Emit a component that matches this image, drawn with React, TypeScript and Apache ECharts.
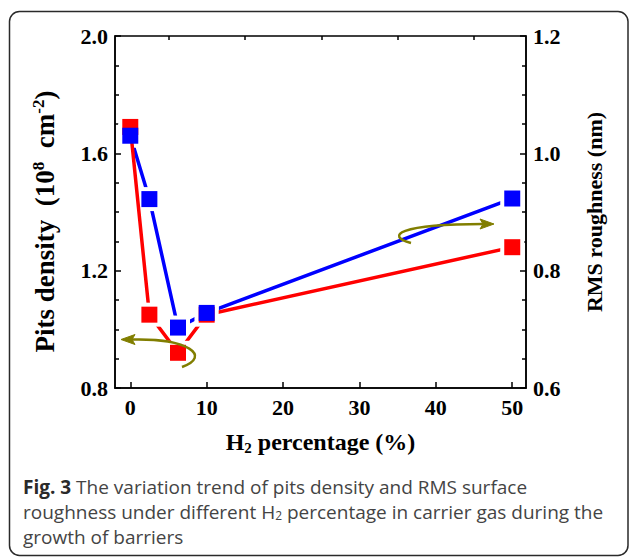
import React, { useEffect, useRef } from 'react';
import * as echarts from 'echarts';

// ---- data ----
const h2Percent = [0, 2.5, 6.25, 10, 50];
const pitsDensity = [1.69, 1.05, 0.92, 1.05, 1.28]; // 10^8 cm^-2 (left axis)
const rmsRoughness = [1.03, 0.922, 0.703, 0.728, 0.923]; // nm (right axis)
const xMajorTicks = [0, 10, 20, 30, 40, 50];
const xMinorTicks = [5, 15, 25, 35, 45];
const captionLines = [
  '{b|Fig. 3} The variation trend of pits density and RMS surface',
  'roughness under different H{s|2} percentage in carrier gas during the',
  'growth of barriers',
];

const SERIF = '"Liberation Serif", "Times New Roman", serif';
const SANS = '"Open Sans", "Noto Sans", sans-serif';
const OLIVE = '#817e00';

export default function App() {
  const ref = useRef<HTMLDivElement>(null);
  useEffect(() => {
    if (!ref.current) return;
    const chart = echarts.init(ref.current, undefined, { renderer: 'svg' });
    const red = h2Percent.map((x, i) => [x, pitsDensity[i]]);
    const blue = h2Percent.map((x, i) => [x, rmsRoughness[i]]);
    const tickStyle = { color: '#000', width: 1.5 };
    const axisLabelStyle = {
      color: '#000',
      fontFamily: SERIF,
      fontWeight: 'bold' as const,
      fontSize: 22,
    };
    const nameStyle = {
      color: '#000',
      fontFamily: SERIF,
      fontWeight: 'bold' as const,
      fontSize: 22,
    };
    const leftName = { ...nameStyle, fontSize: 27 };
    const xName = { ...nameStyle, fontSize: 24 };
    chart.setOption({
      animation: false,
      backgroundColor: '#fff',
      grid: {
        left: 115,
        right: 104,
        top: 36,
        bottom: 169,
        show: true,
        borderColor: '#000',
        borderWidth: 1.5,
        backgroundColor: 'transparent',
      },
      xAxis: [
        {
          type: 'value',
          min: -2,
          max: 51.8,
          axisLine: { show: true, onZero: false, lineStyle: { color: '#000', width: 1.5 } },
          axisTick: { show: true, inside: true, length: 6, customValues: xMajorTicks, lineStyle: tickStyle },
          axisLabel: {
            show: true,
            customValues: xMajorTicks,
            margin: 8,
            ...axisLabelStyle,
          },
          splitLine: { show: false },
          name: '{a|H}{s|2}{a| percentage (%)}',
          nameLocation: 'middle',
          nameGap: 41,
          nameTextStyle: {
            ...xName,
            rich: {
              a: { ...xName, lineHeight: 26 },
              s: { ...xName, fontSize: 15, lineHeight: 15, verticalAlign: 'bottom' },
            },
          },
        },
        {
          type: 'value',
          min: -2,
          max: 51.8,
          axisLine: { show: false, onZero: false },
          axisTick: { show: true, inside: true, length: 4, customValues: xMinorTicks, lineStyle: tickStyle },
          axisLabel: { show: false },
          splitLine: { show: false },
        },
      ],
      yAxis: [
        {
          type: 'value',
          position: 'left',
          min: 0.8,
          max: 2.0,
          interval: 0.4,
          axisLine: { show: true, onZero: false, lineStyle: { color: '#000', width: 1.5 } },
          axisTick: { show: true, inside: true, length: 6, lineStyle: tickStyle },
          minorTick: { show: true, splitNumber: 4, length: 4, lineStyle: tickStyle },
          axisLabel: { ...axisLabelStyle, margin: 7, formatter: (v: number) => v.toFixed(1) },
          splitLine: { show: false },
          name: '{a|Pits density  (10}{p|8}{a|  cm}{p|-2}{a|)}{g|}',
          nameLocation: 'middle',
          nameRotate: 90,
          nameGap: 55,
          nameTextStyle: {
            ...leftName,
            rich: {
              a: { ...leftName, lineHeight: 30 },
              p: { ...leftName, fontSize: 17, lineHeight: 17, verticalAlign: 'top' },
              g: { ...leftName, width: 19 },
            },
          },
        },
        {
          type: 'value',
          position: 'right',
          min: 0.6,
          max: 1.2,
          interval: 0.2,
          axisLine: { show: true, onZero: false, lineStyle: { color: '#000', width: 1.5 } },
          axisTick: { show: true, inside: true, length: 6, lineStyle: tickStyle },
          minorTick: { show: true, splitNumber: 4, length: 4, lineStyle: tickStyle },
          axisLabel: { ...axisLabelStyle, margin: 7, formatter: (v: number) => v.toFixed(1) },
          splitLine: { show: false },
          name: 'RMS roughness (nm)',
          nameLocation: 'middle',
          nameRotate: 90,
          nameGap: 57,
          nameTextStyle: nameStyle,
        },
      ],
      series: [
        // blue (roughness) line and its gap mask first
        {
          type: 'line',
          data: blue,
          xAxisIndex: 0,
          yAxisIndex: 1,
          symbol: 'none',
          silent: true,
          z: 2,
          lineStyle: { color: '#0000ff', width: 3.5 },
        },
        {
          type: 'scatter',
          data: blue,
          yAxisIndex: 1,
          symbol: 'rect',
          symbolSize: 24,
          silent: true,
          z: 3,
          itemStyle: { color: '#ffffff', opacity: 1 },
        },
        // red (pits density) line and its gap mask
        {
          type: 'line',
          data: red,
          xAxisIndex: 0,
          yAxisIndex: 0,
          symbol: 'none',
          silent: true,
          z: 4,
          lineStyle: { color: '#ff0000', width: 3.5 },
        },
        {
          type: 'scatter',
          data: red,
          yAxisIndex: 0,
          symbol: 'rect',
          symbolSize: 24,
          silent: true,
          z: 5,
          itemStyle: { color: '#ffffff', opacity: 1 },
        },
        {
          type: 'scatter',
          data: red,
          yAxisIndex: 0,
          symbol: 'rect',
          symbolSize: 16,
          silent: true,
          z: 8,
          itemStyle: { color: '#ff0000', opacity: 1 },
        },
        {
          type: 'scatter',
          data: blue,
          yAxisIndex: 1,
          symbol: 'rect',
          symbolSize: 16,
          silent: true,
          z: 9,
          itemStyle: { color: '#0000ff', opacity: 1 },
        },
      ],
      graphic: [
        {
          type: 'rect',
          silent: true,
          shape: { x: 9.5, y: 11.5, width: 618.5, height: 544, r: 10 },
          style: { fill: 'none', stroke: '#2a2a2a', lineWidth: 1.5 },
        },
        // left-pointing annotation arrow (pits density -> left axis)
        {
          type: 'bezierCurve',
          silent: true,
          z: 20,
          shape: { x1: 182, y1: 367, cpx1: 212, cpy1: 356, cpx2: 188, cpy2: 338, x2: 132, y2: 339.5 },
          style: { stroke: OLIVE, lineWidth: 2.5, fill: 'none' },
        },
        {
          type: 'polygon',
          silent: true,
          z: 20,
          shape: { points: [[121, 339.5], [135, 334.5], [132, 339.5], [135, 344.5]] },
          style: { fill: OLIVE, stroke: OLIVE, lineWidth: 1 },
        },
        // right-pointing annotation arrow (roughness -> right axis)
        {
          type: 'bezierCurve',
          silent: true,
          z: 20,
          shape: { x1: 411, y1: 243, cpx1: 385, cpy1: 236, cpx2: 398, cpy2: 224, x2: 483, y2: 224 },
          style: { stroke: OLIVE, lineWidth: 2.5, fill: 'none' },
        },
        {
          type: 'polygon',
          silent: true,
          z: 20,
          shape: { points: [[494, 224], [480, 219], [483, 224], [480, 229]] },
          style: { fill: OLIVE, stroke: OLIVE, lineWidth: 1 },
        },
        ...captionLines.map((t, i) => ({
          type: 'text',
          silent: true,
          x: 23,
          y: 487 + i * 25,
          style: {
            text: t,
            fontFamily: SANS,
            fontSize: 19,
            fill: '#444444',
            verticalAlign: 'middle',
            rich: {
              b: { fontFamily: SANS, fontSize: 19, fontWeight: 'bold', fill: '#2a2a2a', lineHeight: 24 },
              s: { fontFamily: SANS, fontSize: 12, fill: '#444444', lineHeight: 12, verticalAlign: 'bottom' },
            },
          },
        })),
      ],
    });
    return () => chart.dispose();
  }, []);
  return (
    <div
      ref={ref}
      style={{ position: 'fixed', left: 0, top: 0, width: 630, height: 557, background: '#fff' }}
    />
  );
}
